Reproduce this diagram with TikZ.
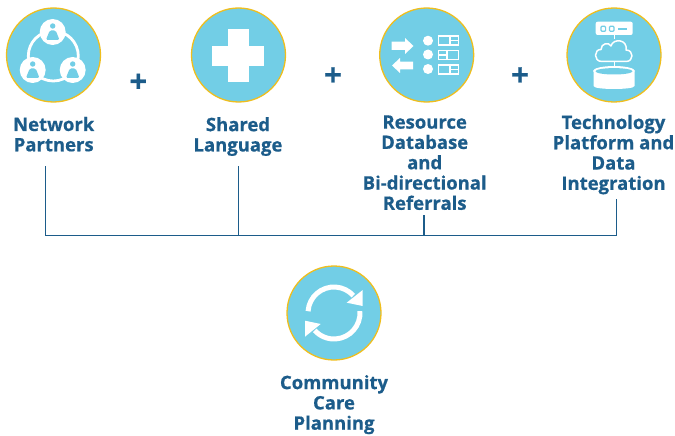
\documentclass[tikz,border=0pt]{standalone}
\usepackage{fontspec}
\setmainfont[BoldFeatures={FakeBold=0.6}]{Open Sans}
\definecolor{skyb}{HTML}{72CEE6}
\definecolor{gold}{HTML}{EFBE1E}
\definecolor{navy}{HTML}{1C5C8A}
\tikzset{
 disc/.style={circle,draw=gold,fill=skyb,line width=1.3pt,minimum size=94pt,inner sep=0pt},
 txt/.style={font=\fontsize{18.5}{20.3}\selectfont\bfseries,text=navy,align=center,inner sep=0pt},
 plussign/.style={font=\fontsize{31}{31}\selectfont\bfseries,text=navy,inner sep=0pt},
 wire/.style={draw=navy,line width=1.1pt},
 ico/.style={fill=white,draw=none},
 icol/.style={draw=white,fill=none,line width=1.3pt},
}
\begin{document}
\begin{tikzpicture}[x=1pt,y=-1pt]
\useasboundingbox (0,0) rectangle (675,436);
\node[disc] (c1) at (53.5,55) {};
\node[disc] (c2) at (238.5,55) {};
\node[disc] (c3) at (426.7,55) {};
\node[disc] (c4) at (614,55) {};
\node[disc] (c5) at (334,313) {};
% plus signs
\node[plussign] (p1) at (138.3,83) {+};
\node[plussign] (p2) at (333,76.5) {+};
\node[plussign] (p3) at (520,76.5) {+};
% labels
\node[txt] (t1) at (53.7,134.2) {Network\\Partners};
\node[txt] (t2) at (238,136.5) {Shared\\Language};
\node[txt] (t3) at (424.7,162.7) {Resource\\Database\\and\\Bi-directional\\Referrals};
\node[txt] (t4) at (613.5,154.6) {Technology\\Platform and\\Data\\Integration};
\node[txt] (t5) at (334,404.6) {Community\\Care\\Planning};
% connectors
\coordinate (a1) at (45.7,166);
\coordinate (a2) at (238.3,166);
\coordinate (a3) at (424,215);
\coordinate (a4) at (616.3,199.3);
\coordinate (b1) at (45.7,235.2);
\coordinate (b2) at (238.3,235.2);
\coordinate (b3) at (424,235.2);
\coordinate (b4) at (616.3,235.2);
\coordinate (m1) at (440,235.2);
\coordinate (m2) at (434,235.6);
\coordinate (b5) at (616.3,235.6);
\draw[wire] (a1) -- (b1) -- (m1);
\draw[wire] (m2) -- (b5) -- (a4);
\draw[wire] (a2) -- (b2);
\draw[wire] (a3) -- (b3);
% icon 1
\draw[white,line width=2.8pt] (53.3,56) circle (25);
\foreach \cx/\cy in {52.7/32,32.7/70,72.7/70}{
 \fill[white] (\cx,\cy) circle (13);
 \fill[skyb] (\cx,\cy-6) circle (2.7);
 \fill[skyb,rounded corners=1.5pt] (\cx-3,\cy-1.5) -- (\cx+3,\cy-1.5) -- (\cx+6.8,\cy+8) -- (\cx-6.8,\cy+8) -- cycle;
}
% icon 2 cross
\fill[white] (228,29) rectangle (249,81.7);
\fill[white] (212,46) rectangle (264,66);
% icon 3 list
\fill[ico] (391.7,41.7) -- (405,41.7) -- (405,38) -- (413.5,46) -- (405,54) -- (405,50) -- (391.7,50) -- cycle;
\fill[ico] (413,61.7) -- (400,61.7) -- (400,58) -- (392,65.5) -- (400,73) -- (400,69.3) -- (413,69.3) -- cycle;
\foreach \dy in {40.7,54.5,69}{\fill[white] (428,\dy) circle (5);}
\draw[icol] (438.3,36) rectangle (458.3,45);
\draw[icol] (450,36) -- (450,45) (450,40.5) -- (458.3,40.5);
\draw[icol] (438.3,50.7) rectangle (458.3,59.3);
\draw[icol] (447,50.7) -- (447,59.3) (438.3,55) -- (447,55);
\draw[icol] (438.3,65) rectangle (458.3,74);
\draw[icol] (450,65) -- (450,74) (450,69.5) -- (458.3,69.5);
% icon 4 tech
\fill[white,rounded corners=2pt] (595.7,21.7) rectangle (632.7,35);
\draw[skyb,line width=1.2pt,rounded corners=1pt] (601,26.3) rectangle (605.6,31.3);
\draw[skyb,line width=1.2pt,rounded corners=1pt] (609.4,26.3) rectangle (614,31.3);
\draw[skyb,line width=1.3pt] (618,29) -- (627,29);
\draw[white,line width=1.3pt] (614.3,35) -- (614.3,39);
\draw[white,line width=1.5pt,line join=round] (602,61.5) .. controls (593,61.5) and (594,49) .. (601,49.5)
 .. controls (601,43) and (609,42) .. (611,46) .. controls (613,38) and (628,39) .. (626,50)
 .. controls (634,50) and (634,61.5) .. (626,61.5) -- cycle;
\draw[white,line width=1.3pt] (614.3,61.5) -- (614.3,67);
\fill[white,rounded corners=1pt] (593.5,71) -- (593.5,85) .. controls (593.5,90) and (634.5,90) .. (634.5,85) -- (634.5,71) -- cycle;
\fill[white] (614,71) ellipse (21 and 5);
\fill[skyb] (614,71.3) ellipse (18.5 and 3.2);
% icon 5 cycle
\draw[white,line width=5pt] (334,313) ++(184:26) arc[start angle=184,end angle=318,radius=26];
\draw[white,line width=5pt] (334,313) ++(-4:26) arc[start angle=-4,end angle=138,radius=26];
\fill[white] (362.7,290) -- (346.7,302.7) -- (362.7,306) -- cycle;
\fill[white] (305,336.7) -- (305,320.7) -- (320.7,324) -- cycle;
\end{tikzpicture}
\end{document}
